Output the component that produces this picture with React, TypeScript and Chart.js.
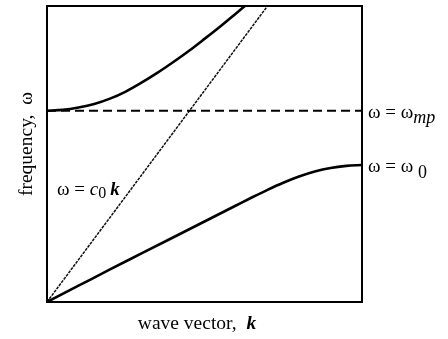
import React, { useEffect, useRef } from "react";
import { Chart, registerables } from "chart.js";

Chart.register(...registerables);

// Lower polariton branch (wave vector k, frequency ω), normalized units
const lowerK = [0, 0.1, 0.2, 0.3, 0.4, 0.5, 0.6, 0.65, 0.7, 0.75, 0.8, 0.85, 0.9, 0.95, 1.0];
const lowerW = [0, 0.055, 0.11, 0.164, 0.218, 0.272, 0.326, 0.353, 0.379, 0.403, 0.424, 0.441, 0.453, 0.46, 0.463];

// Upper branch
const upperK = [0, 0.05, 0.1, 0.15, 0.2, 0.25, 0.3, 0.35, 0.4, 0.45, 0.5, 0.55, 0.6, 0.628];
const upperW = [0.646, 0.649, 0.657, 0.669, 0.687, 0.711, 0.741, 0.774, 0.81, 0.848, 0.889, 0.931, 0.975, 1.0];

// Light line ω = c0 k
const lightK = [0, 0.7];
const lightW = [0, 1.0];

// ω = ω_mp dashed level
const mpK = [0, 1];
const mpW = [0.646, 0.646];

const omega0Level = 0.463;

const SERIF = '"Liberation Serif", "Times New Roman", serif';

type Run = { text: string; font: string; dy?: number };

function drawRuns(ctx: CanvasRenderingContext2D, x: number, y: number, runs: Run[]) {
  let cx = x;
  for (const r of runs) {
    ctx.font = r.font;
    ctx.fillText(r.text, cx, y + (r.dy || 0));
    cx += ctx.measureText(r.text).width;
  }
  return cx;
}

function runsWidth(ctx: CanvasRenderingContext2D, runs: Run[]) {
  let w = 0;
  for (const r of runs) {
    ctx.font = r.font;
    w += ctx.measureText(r.text).width;
  }
  return w;
}

const annotPlugin = {
  id: "annot",
  afterDraw(chart: any) {
    const { ctx, chartArea } = chart;
    const { left, top, right, bottom } = chartArea;
    const ys = chart.scales.y;
    const xs = chart.scales.x;
    ctx.save();
    ctx.strokeStyle = "#000";
    ctx.lineWidth = 2;
    ctx.strokeRect(left, top, right - left, bottom - top);

    // small blob at origin
    ctx.fillStyle = "#000";
    ctx.beginPath();
    ctx.arc(xs.getPixelForValue(0) + 1, ys.getPixelForValue(0) - 1, 2, 0, Math.PI * 2);
    ctx.fill();

    ctx.textAlign = "left";
    ctx.textBaseline = "alphabetic";

    // ω = ω_mp
    const yMp = ys.getPixelForValue(mpW[0]);
    drawRuns(ctx, right + 6, yMp + 7, [
      { text: "ω = ω", font: `19px ${SERIF}` },
      { text: "mp", font: `italic 18px ${SERIF}`, dy: 5 },
    ]);

    // ω = ω_0
    const y0 = ys.getPixelForValue(omega0Level);
    drawRuns(ctx, right + 6, y0 + 7, [
      { text: "ω = ω ", font: `19px ${SERIF}` },
      { text: "0", font: `18px ${SERIF}`, dy: 6 },
    ]);

    // ω = c0 k
    drawRuns(ctx, left + 10, 195, [
      { text: "ω = ", font: `19px ${SERIF}` },
      { text: "c", font: `italic 19px ${SERIF}` },
      { text: "0", font: `16px ${SERIF}`, dy: 3 },
      { text: " ", font: `16px ${SERIF}` },
      { text: "k", font: `bold italic 19px ${SERIF}` },
    ]);

    // x-axis title
    const xRuns: Run[] = [
      { text: "wave vector,  ", font: `19.5px ${SERIF}` },
      { text: "k", font: `bold italic 19.5px ${SERIF}` },
    ];
    const xw = runsWidth(ctx, xRuns);
    drawRuns(ctx, 197 - xw / 2, 329, xRuns);

    // y-axis title
    ctx.translate(32, 144);
    ctx.rotate(-Math.PI / 2);
    ctx.textAlign = "center";
    ctx.font = `19.5px ${SERIF}`;
    ctx.fillText("frequency,  ω", 0, 0);
    ctx.restore();
  },
};

function pts(xs: number[], ys: number[]) {
  return xs.map((x, i) => ({ x, y: ys[i] }));
}

export default function App() {
  const ref = useRef<HTMLCanvasElement | null>(null);
  useEffect(() => {
    if (!ref.current) return;
    const chart = new Chart(ref.current, {
      type: "line",
      data: {
        datasets: [
          {
            data: pts(mpK, mpW),
            borderColor: "#000",
            borderWidth: 2,
            borderDash: [9, 5],
            pointRadius: 0,
          },
          {
            data: pts(lightK, lightW),
            borderColor: "#111",
            borderWidth: 1.5,
            borderDash: [3, 1],
            pointRadius: 0,
          },
          {
            data: pts(lowerK, lowerW),
            borderColor: "#000",
            borderWidth: 2.6,
            cubicInterpolationMode: "monotone",
            pointRadius: 0,
          },
          {
            data: pts(upperK, upperW),
            borderColor: "#000",
            borderWidth: 2.6,
            cubicInterpolationMode: "monotone",
            pointRadius: 0,
          },
        ],
      } as any,
      options: {
        animation: false,
        responsive: false,
        parsing: false as any,
        layout: { padding: { left: 47, right: 86, top: 6, bottom: 37 } },
        plugins: { legend: { display: false }, tooltip: { enabled: false } },
        scales: {
          x: { type: "linear", min: 0, max: 1, display: false },
          y: { type: "linear", min: 0, max: 1, display: false },
        },
      },
      plugins: [annotPlugin],
    });
    return () => chart.destroy();
  }, []);
  return (
    <div style={{ position: "absolute", left: 0, top: 0, width: 448, height: 339, background: "#fff" }}>
      <canvas ref={ref} width={448} height={339} />
    </div>
  );
}
